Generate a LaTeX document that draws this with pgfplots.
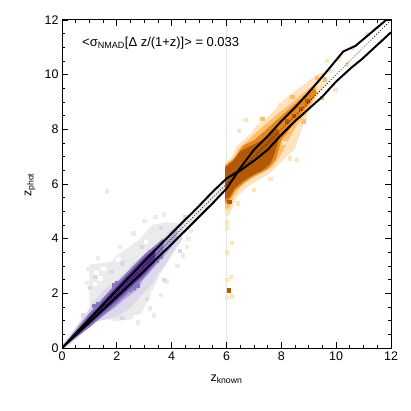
\documentclass[border=0pt]{standalone}
\usepackage{fontspec}
\setmainfont{Liberation Sans}
\usepackage{pgfplots}
\pgfplotsset{compat=1.18}
% PuOr-like shades
\definecolor{pu1}{HTML}{DCD7EC}
\definecolor{pu2}{HTML}{B4AAD6}
\definecolor{pu3}{HTML}{8676BA}
\definecolor{pu4}{HTML}{553092}
\definecolor{or1}{HTML}{FEE3BE}
\definecolor{or2}{HTML}{FDBE70}
\definecolor{or3}{HTML}{E3861C}
\definecolor{or4}{HTML}{B35806}
\definecolor{cloud}{HTML}{EBEBEB}
\pgfplotsset{cell/.style={only marks, mark=square*, mark size=1.7pt, color=#1, mark options={solid, draw=#1, fill=#1}}}

\begin{document}
\begin{tikzpicture}
\useasboundingbox (0,0) rectangle (411bp,411bp);
\begin{axis}[
  at={(62bp,63bp)}, anchor=south west,
  scale only axis, width=329bp, height=328bp,
  xmin=0, xmax=12, ymin=0, ymax=12,
  xtick={0,2,...,12}, ytick={0,2,...,12},
  minor tick num=3,
  tick align=inside, tick pos=both,
  major tick length=6bp, minor tick length=3.5bp,
  tick style={black, line width=0.8bp},
  axis line style={line width=1bp},
  /pgf/number format/assume math mode=true,
  ticklabel style={font=\fontsize{12.5}{15}\selectfont},
  label style={font=\fontsize{12.5}{15}\selectfont},
  xlabel={z\textsubscript{known}},
  ylabel={z\textsubscript{phot}},
  xlabel style={at={(axis description cs:0.5,-0.095)}, anchor=center},
  ylabel style={at={(axis description cs:-0.097,0.497)}, anchor=center, rotate=0},
  axis on top,
  clip marker paths=true,
]
% grey cloud of the full sample
\addplot[fill=cloud, draw=none] coordinates {
  (1.0,1.5) (1.0,3.05) (1.8,3.15) (2.0,3.4) (2.3,3.6) (2.8,3.95) (3.3,4.5)
  (3.8,4.6) (4.3,4.55) (4.4,4.2) (4.3,3.8) (4.05,3.45) (3.8,3.05) (3.6,2.75)
  (3.4,2.3) (3.2,1.85) (2.9,1.3) (2.5,1.05) (2.0,0.98) (1.5,1.08) (1.2,1.3)
};
\addplot[fill=cloud, draw=none] coordinates {
  (3.0,3.17) (4.0,4.2) (5.0,5.2) (5.5,5.72) (6.0,6.2)
  (6.0,5.83) (5.5,5.3) (5.0,4.8) (4.0,3.8) (3.0,2.83)
};
\addplot[cell=cloud] coordinates {
  (1.63,5.73) (0.9,2.4) (0.95,2.9) (1.3,3.3) (2.1,3.7) (2.6,4.2) (3.0,4.65)
  (3.4,4.8) (3.7,4.9) (4.4,3.4) (4.2,3.0) (3.8,2.45) (3.6,1.95) (3.2,1.45)
  (2.75,0.95) (3.35,1.2) (4.6,4.0) (4.7,4.3) (2.84,1.33) (1.1,1.25) (4.55,3.7)
};
% white gaps inside the grey cloud
\addplot[cell=white] coordinates {
  (1.25,2.75) (1.5,2.9) (2.05,3.25) (2.65,1.15) (3.3,2.05)
  (3.05,3.9) (1.4,2.55) (1.2,2.35)
};
% purple: z < 6
\addplot[fill=pu1, draw=none] coordinates {
  (0,0.1) (0.5,0.75) (0.9,1.3) (1.2,1.75) (1.5,2.1) (1.9,2.4) (2.3,2.75)
  (2.6,3.1) (3.0,3.35) (3.3,3.65) (3.6,3.95) (4.0,4.35) (4.4,4.65)
  (4.4,4.0) (4.1,3.6) (3.8,3.1) (3.5,2.7) (3.3,2.35) (3.0,2.05) (2.7,1.7)
  (2.4,1.4) (2.0,1.15) (1.6,1.05) (1.2,0.95) (0.9,0.7) (0.5,0.3) (0.1,0)
};
\addplot[fill=pu2, draw=none] coordinates {
  (0,0.05) (0.5,0.62) (1.0,1.2) (1.3,1.6) (1.7,2.05) (2.1,2.45) (2.5,2.8)
  (2.9,3.2) (3.3,3.55) (3.8,4.0) (4.2,4.35)
  (4.2,3.95) (3.8,3.45) (3.4,3.0) (3.0,2.55) (2.7,2.1) (2.3,1.8) (1.9,1.45)
  (1.6,1.25) (1.2,1.0) (0.9,0.75) (0.5,0.4) (0.05,0)
};
\addplot[cell=pu3] coordinates {
  (1.15,1.55) (1.3,1.6) (1.3,1.45) (1.45,1.5) (1.5,1.35) (1.6,1.45)
  (2.45,2.15) (2.6,2.2) (2.6,2.35) (2.75,2.3) (1.9,2.3) (2.0,2.4)
  (3.2,3.5) (3.45,3.2) (3.6,3.35)
};
\addplot[fill=pu3, draw=none] coordinates {
  (0,0.03) (1,1.28) (2,2.38) (3,3.42) (3.7,4.0)
  (3.7,3.4) (3,2.58) (2,1.62) (1,0.75) (0,0)
};
\addplot[fill=pu4, draw=none] coordinates {
  (0,0) (1,1.15) (2,2.25) (3,3.3) (3.4,3.65)
  (3.4,3.15) (3,2.7) (2,1.75) (1,0.86)
};
\addplot[cell=pu1] coordinates {
  (1.0,2.2) (1.2,2.6) (1.8,2.8) (2.2,3.1) (2.9,3.7) (3.6,4.4) (4.5,4.8)
  (2.2,1.1) (3.1,1.8) (3.7,2.5) (4.3,3.55) (0.75,1.2)
};
% x = 6 marker
\addplot[gray!22, line width=0.7bp] coordinates {(6,0) (6,12)};
% orange: z > 6
\addplot[fill=or1, draw=none] coordinates {
  (5.95,4.85) (5.95,6.75) (6.2,7.0) (6.35,7.35) (6.6,7.6) (6.9,7.85)
  (7.1,8.15) (7.45,8.4) (7.85,8.8) (8.1,9.1) (8.5,9.4) (8.9,9.7)
  (9.3,10.0) (9.5,10.1) (9.6,9.7) (9.4,9.3) (9.1,8.9)
  (8.9,8.4) (8.7,7.9) (8.5,7.3) (8.1,6.9) (7.8,6.6) (7.5,6.35) (7.1,6.1)
  (6.7,5.85) (6.4,5.55) (6.2,5.1) (6.1,4.85)
};
\addplot[fill=or2, draw=none] coordinates {
  (5.95,5.1) (5.95,6.7) (6.25,6.95) (6.45,7.3) (6.8,7.6) (7.1,7.9)
  (7.5,8.25) (7.9,8.6) (8.3,8.9) (8.7,9.25) (9.1,9.55) (9.3,9.55) (9.2,9.1)
  (8.9,8.6) (8.6,8.2) (8.3,7.7) (8.0,7.1) (7.7,6.65) (7.3,6.4) (6.9,6.2)
  (6.5,5.9) (6.25,5.5) (6.1,5.1)
};
\addplot[fill=or3, draw=none] coordinates {
  (5.95,5.3) (5.95,6.65) (6.3,6.95) (6.6,7.4) (7.0,7.6) (7.4,7.95) (7.9,8.4)
  (8.3,8.75) (8.8,9.2) (9.2,9.5) (9.3,9.35) (9.0,8.9) (8.6,8.45) (8.3,8.0)
  (8.0,7.6) (7.8,6.9) (7.5,6.55) (7.1,6.35) (6.7,6.1) (6.3,5.75) (6.1,5.4)
};
\addplot[fill=or4, draw=none] coordinates {
  (5.95,5.45) (5.95,6.6) (6.25,6.85) (6.5,7.2) (6.9,7.4) (7.2,7.55)
  (7.5,7.75) (7.85,8.05) (7.95,7.8) (7.75,7.1) (7.6,6.75) (7.3,6.5)
  (6.9,6.3) (6.6,6.1) (6.3,5.85) (6.1,5.5)
};
\addplot[cell=or1] coordinates {
  (6.0,4.6) (6.0,4.4) (6.2,3.85) (6.0,3.5) (6.0,2.5) (6.15,2.6) (6.2,1.9)
  (6.0,1.83) (6.7,8.35) (6.45,7.95) (7.95,8.9) (9.65,10.5) (9.77,10.14)
  (10.38,10.38) (11.11,11.48) (9.96,9.46) (8.3,6.95) (8.55,6.9) (8.1,7.5)
  (7.6,6.2) (7.0,5.8) (6.4,5.3) (10.1,10.6) (10.6,11.0)
};
\addplot[cell=or2] coordinates {
  (6.0,5.2) (8.8,8.3) (9.3,9.9) (8.4,9.2) (7.3,8.4) (9.59,9.83) (9.04,9.46)
  (9.47,9.16)
};
\addplot[cell=or4] coordinates {
  (6.07,2.12) (6.1,5.36) (8.2,8.3) (8.45,8.5) (8.7,8.75) (8.95,9.05)
};
% 1-sigma envelope and one-to-one line
\addplot[black, line width=2bp] coordinates {
  (0,0) (0.5,0.53) (1,1.06) (2,2.12) (3,3.17) (4,4.2) (5,5.2) (5.5,5.72)
  (6,6.2) (6.4,6.45) (7,7.25) (7.5,7.75) (8,8.3) (8.5,8.8) (9,9.35)
  (9.6,10.05) (10.26,10.85) (10.7,11.05) (12,12.15)
};
\addplot[black, line width=2bp] coordinates {
  (0,0) (0.5,0.47) (1,0.94) (2,1.88) (3,2.83) (4,3.8) (5,4.8) (5.5,5.3)
  (6,5.83) (6.4,6.42) (7,6.85) (7.5,7.25) (8,7.8) (8.5,8.3) (9,8.75)
  (9.5,9.2) (10,9.75) (10.56,10.26) (10.93,10.56) (12,11.55)
};
\addplot[black, dotted, line width=0.8bp] coordinates {(0,0) (12,12)};
\node[anchor=west, inner sep=0, font=\fontsize{13}{15}\selectfont] at (axis cs:0.73,11.14)
  {<σ\textsubscript{NMAD}[Δ z/(1+z)]> = 0.033};
\end{axis}
\end{tikzpicture}
\end{document}
